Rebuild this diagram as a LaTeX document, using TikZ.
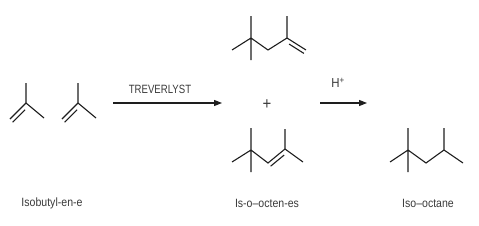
\documentclass[tikz,border=0pt]{standalone}
\usepackage{fontspec}
\setmainfont{Liberation Sans}[FakeStretch=0.88]
\newfontfamily\narrowfont{Liberation Sans}[FakeStretch=0.8]
\usetikzlibrary{arrows.meta,calc}
\definecolor{txt}{HTML}{3A3A3A}
\definecolor{bondc}{HTML}{1E1E1E}
\tikzset{
  bond/.style={draw=bondc, line width=1.1pt, line cap=butt},
  rxn/.style={draw=bondc, line width=1.1pt, -{Triangle[length=8pt,width=6pt]}},
  lbl/.style={text=txt, font=\fontsize{12}{14}\selectfont, inner sep=0pt},
}
\begin{document}
\begin{tikzpicture}[x=1pt,y=-1pt]
\useasboundingbox (0,0) rectangle (479,225);
% ---- Isobutylene 1
\coordinate (a1c) at (26,103);
\coordinate (a1t) at (26,83);
\coordinate (a1r) at (44,118);
\coordinate (a1l) at (10,119);
\draw[bond] (a1c) -- (a1t) (a1c) -- (a1r) (a1c) -- (a1l);
\draw[bond] ($(a1c)!0.22!(a1l)+(2.6,3.2)$) -- ($(a1l)+(2.6,3.2)$);
% ---- Isobutylene 2
\coordinate (a2c) at (78,103);
\coordinate (a2t) at (78,83);
\coordinate (a2r) at (96,118);
\coordinate (a2l) at (62,119);
\draw[bond] (a2c) -- (a2t) (a2c) -- (a2r) (a2c) -- (a2l);
\draw[bond] ($(a2c)!0.22!(a2l)+(2.6,3.2)$) -- ($(a2l)+(2.6,3.2)$);
% ---- arrow 1
\coordinate (r1s) at (113,103);
\coordinate (r1e) at (222,103);
\draw[rxn] (r1s) -- (r1e);
\node[lbl, font=\narrowfont\fontsize{12}{14}\selectfont] (cat) at (160,89) {TREVERLYST};
% ---- top octene
\coordinate (b1q) at (251,38);
\coordinate (b1t) at (251,16);
\coordinate (b1b) at (251,60);
\coordinate (b1l) at (232,50);
\coordinate (b1m) at (268,50);
\coordinate (b1c) at (287,38);
\coordinate (b1u) at (287,16);
\coordinate (b1e) at (306,50);
\draw[bond] (b1t) -- (b1b) (b1l) -- (b1q) -- (b1m) -- (b1c) -- (b1e) (b1c) -- (b1u);
\draw[bond] ($(b1c)!0.22!(b1e)+(-2.1,3.4)$) -- ($(b1e)+(-2.1,3.4)$);
% ---- plus
\node[lbl, font=\fontsize{17}{17}\selectfont] (plus) at (267,105) {+};
% ---- bottom octene
\coordinate (b2q) at (251,150);
\coordinate (b2t) at (251,128);
\coordinate (b2b) at (251,172);
\coordinate (b2l) at (232,162);
\coordinate (b2m) at (268,163);
\coordinate (b2c) at (285,149);
\coordinate (b2u) at (285,129);
\coordinate (b2r) at (303,162);
\draw[bond] (b2t) -- (b2b) (b2l) -- (b2q) -- (b2m) -- (b2c) -- (b2r) (b2c) -- (b2u);
\draw[bond] ($(b2m)!0.0!(b2c)+(2.6,3.2)$) -- ($(b2m)!0.8!(b2c)+(2.6,3.2)$);
% ---- arrow 2
\coordinate (r2s) at (320,103);
\coordinate (r2e) at (367,103);
\draw[rxn] (r2s) -- (r2e);
\node[lbl, font=\fontsize{13}{14}\selectfont] (hplus) at (338,83) {H\textsuperscript{+}};
% ---- isooctane
\coordinate (cq) at (408,150);
\coordinate (ct) at (408,128);
\coordinate (cb) at (408,172);
\coordinate (cl) at (390,162);
\coordinate (cm) at (426,163);
\coordinate (ch) at (444,150);
\coordinate (cu) at (444,128);
\coordinate (cr) at (463,163);
\draw[bond] (ct) -- (cb) (cl) -- (cq) -- (cm) -- (ch) -- (cr) (ch) -- (cu);
% ---- labels
\node[lbl] (n1) at (52,203) {Isobutyl-en-e};
\node[lbl] (n2) at (267,203) {Is-o--octen-es};
\node[lbl] (n3) at (428,203) {Iso--octane};
\end{tikzpicture}
\end{document}
